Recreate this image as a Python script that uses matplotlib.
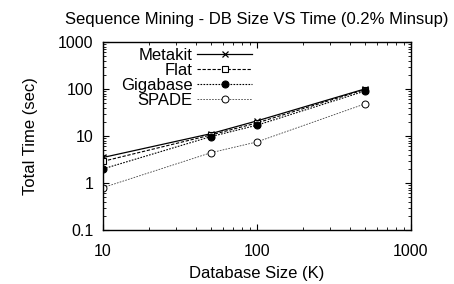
import numpy as np
from matplotlib import pyplot as plt

plt.rcParams['font.family'] = ['Liberation Sans', 'DejaVu Sans']

# Database sizes (K) and timings (sec)
db_size = [10, 50, 100, 500]
metakit = [3.5, 11.2, 21, 100]
flat = [2.9, 10.5, 19, 97]
gigabase = [2.0, 9.7, 17, 90]
spade = [0.8, 4.4, 7.5, 48]

fig = plt.figure(figsize=(4.54, 2.84), dpi=100)
ax = fig.add_axes([0.227, 0.19, 0.678, 0.662])

ax.plot(db_size, metakit, color='black', lw=0.9, ls='-', marker='x', ms=5,
        mew=0.9, label='Metakit')
ax.plot(db_size, flat, color='black', lw=0.8, ls=(0, (3, 1.5)), marker='s', ms=5,
        mfc='white', mew=0.8, label='Flat')
ax.plot(db_size, gigabase, color='black', lw=0.8, ls=(0, (1.5, 1.2)), marker='o', ms=5,
        mfc='black', mew=0.8, label='Gigabase')
ax.plot(db_size, spade, color='#444444', lw=0.6, ls=(0, (2, 1.5)), marker='o', ms=5,
        mfc='white', mec='black', mew=0.7, label='SPADE')

ax.set_xscale('log')
ax.set_yscale('log')
ax.set_xlim(10, 1000)
ax.set_ylim(0.1, 1000)
ax.set_xticks([10, 100, 1000])
ax.set_xticklabels(['10', '100', '1000'])
ax.set_yticks([0.1, 1, 10, 100, 1000])
ax.set_yticklabels(['0.1', '1', '10', '100', '1000'])

ax.tick_params(which='both', direction='in', top=True, right=True, labelsize=11.5)
ax.tick_params(which='major', length=4, width=0.8, pad=7)
ax.tick_params(axis='x', which='major', pad=10)
ax.tick_params(which='minor', length=2, width=0.6)
for s in ax.spines.values():
    s.set_linewidth(1.0)

ax.set_xlabel('Database Size (K)', fontsize=12, labelpad=5)
ax.set_ylabel('Total Time (sec)', fontsize=12, labelpad=14)
ax.set_title('Sequence Mining - DB Size VS Time (0.2% Minsup)', fontsize=12, pad=13)

ax.legend(loc='upper right', frameon=False, markerfirst=False, fontsize=12,
          handlelength=3.3, labelspacing=0.0, borderaxespad=0, borderpad=0.0,
          bbox_to_anchor=(0.484, 0.97), handletextpad=0.25)

fig.savefig('out.png', dpi=100)
